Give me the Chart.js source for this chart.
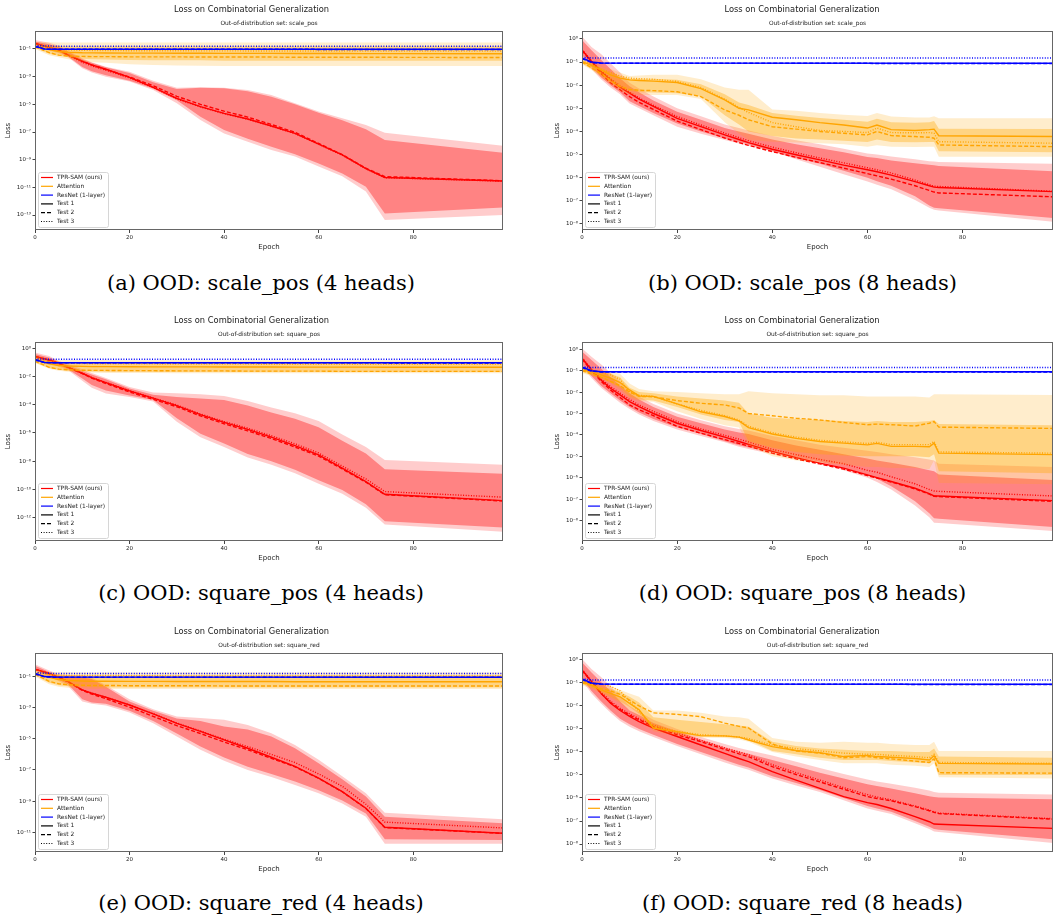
<!DOCTYPE html>
<html>
<head>
<meta charset="utf-8">
<script src="https://cdn.jsdelivr.net/npm/chart.js@4.4.0/dist/chart.umd.min.js"></script>
<style>
  body { margin: 0; background: #fff; width: 1057px; height: 917px; overflow: hidden; position: relative; }
  canvas { position: absolute; }
  .cap { position: absolute; font-family: "DejaVu Serif"; font-size: 21px; line-height: 24px; color: #000; white-space: nowrap; transform: translateX(-50%); }
</style>
</head>
<body>
<script>
// ---- labels ----
const SUPTITLE = 'Loss on Combinatorial Generalization';
const SUBTITLES = ['scale_pos', 'scale_pos', 'square_pos', 'square_pos', 'square_red', 'square_red'].map(s => 'Out-of-distribution set: ' + s);
const CAPTIONS = ['(a) OOD: scale_pos (4 heads)', '(b) OOD: scale_pos (8 heads)', '(c) OOD: square_pos (4 heads)',
                  '(d) OOD: square_pos (8 heads)', '(e) OOD: square_red (4 heads)', '(f) OOD: square_red (8 heads)'];
const MODEL_LABELS = ['TPR-SAM (ours)', 'Attention', 'ResNet (1-layer)'];
const TEST_LABELS = ['Test 1', 'Test 2', 'Test 3'];
const X_TICKS = [0, 20, 40, 60, 80];

// ---- epochs ----
const EPOCHS_4H = [0,3,5,7,10,12,15,20,25,30,35,40,45,50,55,60,65,70,74,99];
const EPOCHS_8H = [0,2,4,6,8,10,12,15,20,25,30,33,35,40,45,50,55,60,62,65,70,73,74,75,99];
const BLUE_EPOCHS = [0, 2, 4, 99];

// ---- (a) scale_pos, 4 heads ----   lines: test1, test2, test3 ; bands: outerLo, outerHi, innerLo, innerHi
const TPR_A = [
  [2.6e-1,1.3e-1,8.5e-2,3.7e-2,1.3e-2,7.1e-3,3.4e-3,8.9e-4,1.7e-4,2.7e-5,6.8e-6,2.2e-6,8.7e-7,2.7e-7,7.9e-8,1.35e-8,2.2e-9,2.3e-10,5.2e-11,2.9e-11],
  [2.4e-1,1.3e-1,8.2e-2,3.6e-2,1.3e-2,7.0e-3,3.3e-3,9.5e-4,2.2e-4,3.8e-5,1.0e-5,3.2e-6,1.2e-6,3.5e-7,9.5e-8,1.5e-8,2.3e-9,2.4e-10,6.0e-11,3.0e-11],
  [2.2e-1,1.2e-1,8.0e-2,3.5e-2,1.1e-2,6.0e-3,2.9e-3,8.0e-4,1.6e-4,2.5e-5,6.5e-6,2.1e-6,8.4e-7,2.6e-7,7.7e-8,1.3e-8,2.1e-9,2.2e-10,5.0e-11,2.8e-11]
];
const TPR_BAND_A = [
  [1.6e-1,7.9e-2,5.0e-2,2.5e-2,4.0e-3,2.0e-3,1.0e-3,4.4e-4,1.1e-4,1.2e-5,7.4e-7,7.9e-8,2.0e-8,5.0e-9,1.7e-9,3.2e-10,6.3e-11,5.0e-12,4.4e-14,1.0e-13],
  [4.5e-1,2.8e-1,1.8e-1,7.9e-2,2.1e-2,1.1e-2,5.2e-3,2.3e-3,5.0e-4,1.6e-4,1.7e-4,1.6e-4,1.1e-4,4.7e-5,1.2e-5,3.0e-6,1.0e-6,3.2e-7,8.9e-8,1.0e-8],
  [2.0e-1,1.0e-1,6.3e-2,2.8e-2,5.0e-3,2.5e-3,1.26e-3,5.0e-4,1.4e-4,2.0e-5,1.26e-6,1.4e-7,3.2e-8,8.7e-9,2.5e-9,5.4e-10,1.0e-10,1.1e-11,1.3e-13,3.5e-13],
  [3.5e-1,2.2e-1,1.4e-1,6.3e-2,1.8e-2,1.0e-2,4.7e-3,1.8e-3,4.0e-4,1.26e-4,1.6e-4,1.45e-4,8.9e-5,3.5e-5,1.0e-5,2.5e-6,7.1e-7,1.6e-7,2.6e-8,3.2e-9]
];
const ATT_A = [
  [1.6e-1,9.0e-2,6.5e-2,5.8e-2,5.3e-2,5.2e-2,5.1e-2,5.0e-2,5.0e-2,4.9e-2,4.9e-2,4.8e-2,4.8e-2,4.8e-2,4.7e-2,4.7e-2,4.7e-2,4.6e-2,4.6e-2,4.5e-2],
  [1.4e-1,5.5e-2,3.6e-2,3.1e-2,2.9e-2,2.8e-2,2.8e-2,2.7e-2,2.7e-2,2.7e-2,2.6e-2,2.6e-2,2.6e-2,2.6e-2,2.5e-2,2.5e-2,2.5e-2,2.5e-2,2.5e-2,2.4e-2],
  [1.7e-1,1.2e-1,9.5e-2,8.5e-2,8.0e-2,7.8e-2,7.6e-2,7.5e-2,7.4e-2,7.4e-2,7.3e-2,7.3e-2,7.2e-2,7.2e-2,7.2e-2,7.1e-2,7.1e-2,7.0e-2,7.0e-2,7.0e-2]
];
const ATT_BAND_A = [
  [1.0e-1,3.5e-2,2.5e-2,1.8e-2,1.3e-2,1.1e-2,1.0e-2,8.0e-3,7.0e-3,6.5e-3,6.2e-3,6.0e-3,6.0e-3,6.0e-3,6.0e-3,6.0e-3,6.0e-3,5.9e-3,5.9e-3,5.9e-3],
  [3.2e-1,3.0e-1,2.9e-1,2.9e-1,2.9e-1,2.9e-1,2.9e-1,2.9e-1,2.9e-1,2.9e-1,2.9e-1,2.9e-1,2.9e-1,2.9e-1,2.9e-1,2.9e-1,2.9e-1,2.9e-1,2.9e-1,2.9e-1],
  [1.2e-1,4.5e-2,3.2e-2,2.5e-2,2.0e-2,1.8e-2,1.7e-2,1.6e-2,1.5e-2,1.5e-2,1.5e-2,1.4e-2,1.4e-2,1.4e-2,1.4e-2,1.4e-2,1.4e-2,1.4e-2,1.4e-2,1.4e-2],
  [2.2e-1,1.8e-1,1.7e-1,1.6e-1,1.6e-1,1.6e-1,1.6e-1,1.6e-1,1.6e-1,1.6e-1,1.6e-1,1.6e-1,1.6e-1,1.6e-1,1.6e-1,1.6e-1,1.6e-1,1.6e-1,1.6e-1,1.6e-1]
];
const RES_A = [[1.6e-1,1.0e-1,9.6e-2,9.5e-2],[1.5e-1,9.8e-2,9.4e-2,9.3e-2],[1.8e-1,1.65e-1,1.6e-1,1.6e-1]];

// ---- (b) scale_pos, 8 heads ----
const TPR_B = [
  [3.3e-1,1.05e-1,3.9e-2,1.7e-2,8.1e-3,4.5e-3,2.5e-3,1.2e-3,3.7e-4,1.6e-4,7.1e-5,4.5e-5,3.3e-5,1.7e-5,9.8e-6,5.9e-6,3.5e-6,2.2e-6,1.8e-6,1.3e-6,6.8e-7,4.5e-7,3.9e-7,3.8e-7,2.5e-7],
  [3.2e-1,1.0e-1,3.2e-2,1.26e-2,6.3e-3,3.2e-3,1.8e-3,8.9e-4,2.8e-4,1.2e-4,5.2e-5,3.3e-5,2.5e-5,1.35e-5,7.6e-6,4.5e-6,2.6e-6,1.5e-6,1.2e-6,8.7e-7,4.5e-7,2.8e-7,2.4e-7,2.2e-7,1.5e-7],
  [3.5e-1,1.1e-1,4.2e-2,1.9e-2,9.5e-3,5.0e-3,2.8e-3,1.35e-3,4.4e-4,1.9e-4,8.5e-5,5.4e-5,4.0e-5,2.1e-5,1.2e-5,7.1e-6,4.4e-6,2.7e-6,2.2e-6,1.6e-6,7.9e-7,5.0e-7,4.3e-7,4.2e-7,2.6e-7]
];
const TPR_BAND_B = [
  [1.6e-1,5.0e-2,1.8e-2,7.9e-3,4.0e-3,1.6e-3,1.0e-3,5.0e-4,1.6e-4,7.9e-5,4.3e-5,3.0e-5,2.4e-5,1.35e-5,6.3e-6,3.0e-6,1.4e-6,6.8e-7,5.0e-7,3.2e-7,1.1e-7,5.0e-8,4.1e-8,3.8e-8,1.26e-8],
  [1.26e0,4.5e-1,2.2e-1,8.9e-2,3.5e-2,1.26e-2,7.1e-3,3.2e-3,1.0e-3,4.5e-4,2.0e-4,1.4e-4,1.1e-4,6.3e-5,4.2e-5,2.8e-5,1.8e-5,1.1e-5,1.0e-5,8.3e-6,6.3e-6,5.2e-6,5.0e-6,4.8e-6,4.0e-6],
  [2.0e-1,6.3e-2,2.2e-2,1.0e-2,5.0e-3,2.0e-3,1.26e-3,6.3e-4,2.2e-4,1.0e-4,5.0e-5,3.5e-5,2.8e-5,1.4e-5,7.1e-6,4.0e-6,2.0e-6,1.0e-6,7.1e-7,4.5e-7,1.6e-7,6.3e-8,5.0e-8,4.8e-8,1.8e-8],
  [8.9e-1,3.2e-1,1.26e-1,5.0e-2,2.0e-2,8.9e-3,5.0e-3,2.2e-3,7.1e-4,3.2e-4,1.4e-4,1.0e-4,7.9e-5,4.5e-5,2.8e-5,1.9e-5,1.26e-5,7.9e-6,7.1e-6,5.6e-6,4.2e-6,3.6e-6,3.5e-6,3.2e-6,1.9e-6]
];
const ATT_B = [
  [1.05e-1,7.1e-2,4.6e-2,2.8e-2,2.0e-2,1.7e-2,1.6e-2,1.5e-2,1.3e-2,7.1e-3,2.3e-3,1.0e-3,8.5e-4,4.1e-4,3.2e-4,2.4e-4,1.9e-4,1.4e-4,1.9e-4,1.2e-4,1.1e-4,1.2e-4,1.26e-4,6.5e-5,6.0e-5],
  [1.0e-1,5.6e-2,3.2e-2,1.6e-2,8.9e-3,6.6e-3,6.0e-3,5.8e-3,5.2e-3,3.2e-3,8.5e-4,5.0e-4,3.2e-4,1.6e-4,1.26e-4,1.0e-4,8.3e-5,7.1e-5,1.0e-4,6.6e-5,6.0e-5,5.6e-5,5.1e-5,2.6e-5,2.2e-5],
  [1.1e-1,7.9e-2,5.0e-2,3.5e-2,2.5e-2,2.0e-2,1.9e-2,1.8e-2,1.45e-2,7.9e-3,2.5e-3,1.1e-3,6.6e-4,2.4e-4,1.6e-4,1.1e-4,1.0e-4,8.9e-5,1.4e-4,8.9e-5,8.7e-5,8.9e-5,8.3e-5,3.6e-5,3.1e-5]
];
const ATT_BAND_B = [
  [7.9e-2,4.5e-2,2.2e-2,1.1e-2,5.6e-3,4.0e-3,3.8e-3,3.8e-3,3.8e-3,2.5e-3,2.5e-4,7.9e-5,4.3e-5,3.6e-5,3.3e-5,3.1e-5,2.8e-5,2.2e-5,2.5e-5,2.2e-5,2.1e-5,2.2e-5,2.2e-5,8.1e-6,8.1e-6],
  [1.6e-1,1.0e-1,7.1e-2,5.0e-2,3.5e-2,2.5e-2,2.6e-2,2.8e-2,2.8e-2,1.8e-2,7.9e-3,6.3e-3,6.3e-3,8.9e-4,7.9e-4,6.2e-4,5.2e-4,4.7e-4,6.3e-4,4.4e-4,4.0e-4,4.0e-4,4.5e-4,3.7e-4,3.7e-4],
  [8.9e-2,5.0e-2,2.6e-2,1.26e-2,7.1e-3,5.6e-3,5.0e-3,4.8e-3,4.5e-3,3.2e-3,5.0e-4,2.0e-4,1.0e-4,6.3e-5,5.0e-5,4.5e-5,4.0e-5,3.5e-5,4.5e-5,3.5e-5,3.4e-5,3.5e-5,3.5e-5,1.4e-5,1.26e-5],
  [1.26e-1,8.3e-2,5.6e-2,3.5e-2,2.5e-2,1.9e-2,1.9e-2,1.9e-2,1.7e-2,1.1e-2,4.0e-3,1.8e-3,1.4e-3,6.3e-4,4.8e-4,3.8e-4,3.2e-4,2.6e-4,3.5e-4,2.5e-4,2.4e-4,2.5e-4,2.8e-4,1.3e-4,1.26e-4]
];
const RES_B = [[1.5e-1,1.0e-1,9.0e-2,8.9e-2],[1.4e-1,9.5e-2,8.8e-2,8.7e-2],[1.6e-1,1.5e-1,1.5e-1,1.5e-1]];

// ---- (c) square_pos, 4 heads ----
const TPR_C = [
  [2.6e-1,1.5e-1,8.7e-2,4.5e-2,1.7e-2,8.3e-3,3.7e-3,9.5e-4,2.9e-4,8.7e-5,2.0e-5,5.6e-6,1.8e-6,5.0e-7,1.26e-7,2.8e-8,3.2e-9,3.5e-10,4.5e-11,1.6e-11],
  [2.5e-1,1.4e-1,8.5e-2,4.4e-2,1.6e-2,7.6e-3,3.2e-3,8.0e-4,2.4e-4,7.2e-5,1.6e-5,4.5e-6,1.4e-6,4.0e-7,1.0e-7,2.3e-8,2.8e-9,3.2e-10,4.2e-11,1.5e-11],
  [2.7e-1,1.5e-1,9.0e-2,4.6e-2,1.7e-2,8.5e-3,3.8e-3,1.0e-3,3.0e-4,9.5e-5,2.2e-5,6.5e-6,2.2e-6,6.3e-7,1.7e-7,3.8e-8,4.5e-9,5.5e-10,7.0e-11,2.8e-11]
];
const TPR_BAND_C = [
  [1.6e-1,8.9e-2,5.0e-2,2.8e-2,5.0e-3,1.6e-3,6.3e-4,3.5e-4,1.7e-4,6.3e-6,5.0e-7,1.0e-7,1.8e-8,5.6e-9,1.4e-9,2.5e-10,5.0e-11,5.0e-12,3.2e-13,1.0e-13],
  [5.0e-1,2.8e-1,1.26e-1,7.9e-2,3.2e-2,1.8e-2,7.9e-3,1.8e-3,7.2e-4,6.5e-4,5.6e-4,4.2e-4,1.8e-4,6.3e-5,2.5e-5,7.1e-6,7.9e-7,1.0e-7,1.2e-8,5.5e-9],
  [2.0e-1,1.0e-1,6.3e-2,3.2e-2,7.1e-3,2.5e-3,1.0e-3,4.5e-4,2.2e-4,1.1e-5,8.9e-7,1.8e-7,3.2e-8,1.0e-8,2.5e-9,4.5e-10,8.9e-11,8.9e-12,5.6e-13,2.0e-13],
  [4.0e-1,2.2e-1,1.1e-1,6.3e-2,2.5e-2,1.4e-2,6.3e-3,1.4e-3,5.0e-4,3.5e-4,2.8e-4,2.2e-4,8.9e-5,2.8e-5,1.0e-5,2.5e-6,2.8e-7,3.5e-8,2.7e-9,1.26e-9]
];
const ATT_C = [
  [1.5e-1,8.0e-2,6.0e-2,5.5e-2,5.2e-2,5.0e-2,5.0e-2,4.9e-2,4.8e-2,4.8e-2,4.8e-2,4.7e-2,4.7e-2,4.7e-2,4.6e-2,4.6e-2,4.6e-2,4.6e-2,4.5e-2,4.5e-2],
  [1.2e-1,4.5e-2,3.3e-2,3.0e-2,2.8e-2,2.7e-2,2.7e-2,2.6e-2,2.6e-2,2.5e-2,2.5e-2,2.5e-2,2.4e-2,2.4e-2,2.4e-2,2.4e-2,2.3e-2,2.3e-2,2.3e-2,2.3e-2],
  [1.6e-1,1.1e-1,9.0e-2,8.5e-2,8.2e-2,8.0e-2,8.0e-2,7.8e-2,7.8e-2,7.6e-2,7.6e-2,7.5e-2,7.5e-2,7.4e-2,7.4e-2,7.3e-2,7.3e-2,7.2e-2,7.2e-2,7.2e-2]
];
const ATT_BAND_C = [
  [9.0e-2,3.5e-2,2.6e-2,2.2e-2,2.0e-2,1.9e-2,1.8e-2,1.8e-2,1.8e-2,1.7e-2,1.7e-2,1.7e-2,1.7e-2,1.7e-2,1.7e-2,1.7e-2,1.7e-2,1.7e-2,1.7e-2,1.7e-2],
  [3.5e-1,1.6e-1,1.5e-1,1.5e-1,1.5e-1,1.5e-1,1.5e-1,1.4e-1,1.4e-1,1.4e-1,1.4e-1,1.4e-1,1.4e-1,1.4e-1,1.4e-1,1.4e-1,1.4e-1,1.4e-1,1.4e-1,1.4e-1],
  [1.0e-1,4.0e-2,3.0e-2,2.6e-2,2.4e-2,2.3e-2,2.2e-2,2.2e-2,2.1e-2,2.1e-2,2.1e-2,2.1e-2,2.1e-2,2.1e-2,2.1e-2,2.1e-2,2.1e-2,2.1e-2,2.1e-2,2.1e-2],
  [2.5e-1,1.2e-1,1.1e-1,1.0e-1,1.0e-1,1.0e-1,1.0e-1,1.0e-1,1.0e-1,1.0e-1,1.0e-1,1.0e-1,1.0e-1,1.0e-1,1.0e-1,1.0e-1,1.0e-1,1.0e-1,1.0e-1,1.0e-1]
];
const RES_C = [[1.6e-1,1.0e-1,9.6e-2,9.5e-2],[1.5e-1,9.8e-2,9.3e-2,9.2e-2],[1.8e-1,1.7e-1,1.65e-1,1.65e-1]];

// ---- (d) square_pos, 8 heads ----
const TPR_D = [
  [3.8e-1,1.1e-1,3.7e-2,1.5e-2,7.4e-3,3.6e-3,2.1e-3,1.0e-3,3.5e-4,1.6e-4,7.8e-5,4.9e-5,3.6e-5,1.7e-5,8.7e-6,4.8e-6,2.8e-6,1.35e-6,1.0e-6,6.6e-7,3.2e-7,1.8e-7,1.4e-7,1.4e-7,8.5e-8],
  [3.5e-1,1.0e-1,3.2e-2,1.26e-2,5.6e-3,2.5e-3,1.5e-3,7.9e-4,2.5e-4,1.2e-4,6.0e-5,4.0e-5,3.0e-5,1.4e-5,7.6e-6,4.4e-6,2.5e-6,1.26e-6,9.5e-7,6.3e-7,3.0e-7,1.7e-7,1.35e-7,1.3e-7,7.9e-8],
  [4.0e-1,1.2e-1,4.2e-2,1.8e-2,8.9e-3,4.5e-3,2.5e-3,1.26e-3,4.2e-4,1.9e-4,9.5e-5,6.3e-5,4.7e-5,2.1e-5,1.2e-5,7.1e-6,4.5e-6,2.2e-6,1.8e-6,1.1e-6,5.2e-7,2.8e-7,2.4e-7,2.3e-7,1.4e-7]
];
const TPR_BAND_D = [
  [1.6e-1,4.5e-2,1.6e-2,7.1e-3,3.2e-3,1.6e-3,8.9e-4,4.5e-4,1.8e-4,8.9e-5,4.5e-5,2.8e-5,2.2e-5,1.26e-5,7.1e-6,4.5e-6,2.2e-6,1.0e-6,6.3e-7,2.8e-7,5.0e-8,1.4e-8,7.9e-9,7.6e-9,3.2e-9],
  [1.1e0,4.5e-1,2.0e-1,7.9e-2,3.2e-2,1.26e-2,6.3e-3,2.8e-3,1.0e-3,4.8e-4,2.5e-4,1.9e-4,1.6e-4,8.9e-5,5.6e-5,3.5e-5,2.5e-5,1.8e-5,1.6e-5,1.26e-5,8.9e-6,7.1e-6,6.3e-6,4.5e-6,3.2e-6],
  [2.0e-1,5.6e-2,2.0e-2,8.9e-3,4.0e-3,2.0e-3,1.1e-3,5.6e-4,2.2e-4,1.1e-4,5.0e-5,3.3e-5,2.6e-5,1.6e-5,8.9e-6,5.6e-6,2.8e-6,1.4e-6,8.9e-7,4.0e-7,7.9e-8,2.2e-8,1.26e-8,1.2e-8,5.0e-9],
  [7.9e-1,3.2e-1,1.26e-1,5.0e-2,2.0e-2,8.9e-3,4.5e-3,2.0e-3,7.1e-4,3.5e-4,1.8e-4,1.3e-4,1.1e-4,5.6e-5,3.2e-5,2.0e-5,1.26e-5,7.9e-6,6.3e-6,5.0e-6,3.2e-6,2.2e-6,2.0e-6,1.4e-6,7.9e-7]
];
const ATT_D = [
  [1.1e-1,8.9e-2,6.3e-2,4.5e-2,2.8e-2,1.26e-2,6.6e-3,6.3e-3,2.8e-3,1.2e-3,7.2e-4,4.5e-4,2.2e-4,1.1e-4,6.9e-5,4.9e-5,4.1e-5,3.4e-5,4.0e-5,2.9e-5,2.9e-5,2.8e-5,4.1e-5,1.4e-5,1.2e-5],
  [1.0e-1,7.1e-2,5.0e-2,3.2e-2,2.0e-2,1.0e-2,6.3e-3,6.0e-3,4.0e-3,3.0e-3,2.5e-3,1.8e-3,1.0e-3,7.8e-4,6.0e-4,5.0e-4,3.8e-4,3.0e-4,3.2e-4,3.0e-4,2.6e-4,3.5e-4,4.2e-4,2.3e-4,2.0e-4],
  [1.26e-1,1.05e-1,8.3e-2,6.3e-2,4.0e-2,1.0e-2,7.1e-3,6.3e-3,2.8e-3,1.4e-3,7.9e-4,5.0e-4,2.5e-4,1.26e-4,7.9e-5,5.6e-5,4.7e-5,4.0e-5,4.5e-5,3.5e-5,3.5e-5,3.5e-5,5.0e-5,1.6e-5,1.4e-5]
];
const ATT_BAND_D = [
  [7.9e-2,5.6e-2,4.0e-2,2.5e-2,1.26e-2,5.0e-3,3.8e-3,3.5e-3,1.26e-3,5.6e-4,2.8e-4,2.2e-4,3.2e-5,1.0e-5,6.3e-6,5.0e-6,4.0e-6,3.2e-6,3.2e-6,2.8e-6,2.8e-6,2.5e-6,6.3e-6,5.6e-7,5.0e-7],
  [1.6e-1,1.26e-1,1.0e-1,8.9e-2,7.1e-2,2.5e-2,1.4e-2,1.1e-2,1.0e-2,8.9e-3,7.9e-3,7.9e-3,1.1e-2,8.9e-3,7.9e-3,7.1e-3,7.1e-3,6.3e-3,6.3e-3,6.3e-3,6.3e-3,5.6e-3,7.9e-3,7.9e-3,7.4e-3],
  [8.9e-2,6.3e-2,4.5e-2,2.8e-2,1.6e-2,6.3e-3,4.5e-3,4.0e-3,2.0e-3,8.9e-4,5.0e-4,4.0e-4,5.0e-5,2.5e-5,1.6e-5,1.26e-5,1.1e-5,1.0e-5,1.0e-5,1.0e-5,1.0e-5,8.9e-6,1.26e-5,2.0e-6,1.6e-6],
  [1.4e-1,1.1e-1,8.9e-2,7.1e-2,5.0e-2,1.6e-2,1.0e-2,8.9e-3,6.3e-3,5.0e-3,4.0e-3,3.2e-3,1.0e-3,6.3e-4,5.6e-4,5.0e-4,4.5e-4,4.0e-4,4.5e-4,4.0e-4,4.0e-4,4.5e-4,5.0e-4,3.2e-4,2.8e-4]
];
const RES_D = [[1.5e-1,1.0e-1,9.0e-2,8.9e-2],[1.4e-1,9.5e-2,8.8e-2,8.7e-2],[1.5e-1,1.4e-1,1.4e-1,1.4e-1]];

// ---- (e) square_red, 4 heads ----
const TPR_E = [
  [3.0e-1,1.6e-1,9.1e-2,4.8e-2,1.4e-2,8.5e-3,4.7e-3,1.5e-3,4.0e-4,1.0e-4,3.0e-5,8.5e-6,2.5e-6,6.6e-7,1.7e-7,3.0e-8,4.1e-9,3.5e-10,2.1e-11,8.7e-12],
  [2.9e-1,1.5e-1,8.9e-2,4.6e-2,1.3e-2,7.5e-3,3.8e-3,1.1e-3,2.8e-4,7.1e-5,2.2e-5,6.3e-6,2.0e-6,5.6e-7,1.6e-7,2.9e-8,4.0e-9,3.4e-10,2.0e-11,8.5e-12],
  [3.0e-1,1.6e-1,9.3e-2,4.9e-2,1.4e-2,8.7e-3,4.8e-3,1.5e-3,4.1e-4,1.05e-4,3.2e-5,9.5e-6,3.2e-6,1.0e-6,3.0e-7,5.6e-8,9.0e-9,6.3e-10,4.5e-11,1.9e-11]
];
const TPR_BAND_E = [
  [2.0e-1,1.0e-1,5.0e-2,2.5e-2,2.5e-3,1.8e-3,1.4e-3,5.0e-4,1.0e-4,1.4e-5,2.0e-6,4.0e-7,1.0e-7,3.5e-8,1.1e-8,3.2e-9,7.1e-10,1.0e-10,1.8e-12,1.8e-12],
  [6.3e-1,2.5e-1,1.4e-1,1.26e-1,1.2e-1,8.9e-2,2.8e-2,3.5e-3,7.9e-4,2.7e-4,2.2e-4,1.7e-4,7.9e-5,2.3e-5,4.0e-6,4.5e-7,4.0e-8,3.2e-9,1.8e-10,6.8e-11],
  [2.5e-1,1.1e-1,6.3e-2,3.2e-2,3.5e-3,2.2e-3,1.8e-3,6.3e-4,1.4e-4,2.2e-5,3.2e-6,6.3e-7,1.6e-7,5.6e-8,1.8e-8,5.0e-9,1.1e-9,1.6e-10,3.5e-12,3.2e-12],
  [5.0e-1,2.0e-1,1.1e-1,1.0e-1,8.9e-2,7.1e-2,2.2e-2,2.5e-3,6.3e-4,2.0e-4,1.4e-4,6.3e-5,4.0e-5,1.4e-5,2.5e-6,2.7e-7,2.5e-8,2.0e-9,1.0e-10,3.8e-11]
];
const ATT_E = [
  [1.6e-1,9.0e-2,6.5e-2,5.6e-2,5.2e-2,5.0e-2,5.0e-2,4.9e-2,4.9e-2,4.8e-2,4.8e-2,4.8e-2,4.8e-2,4.8e-2,4.7e-2,4.7e-2,4.7e-2,4.7e-2,4.7e-2,4.7e-2],
  [1.4e-1,5.0e-2,3.5e-2,3.0e-2,2.8e-2,2.7e-2,2.7e-2,2.6e-2,2.6e-2,2.6e-2,2.6e-2,2.5e-2,2.5e-2,2.5e-2,2.5e-2,2.5e-2,2.5e-2,2.5e-2,2.5e-2,2.5e-2],
  [1.8e-1,1.4e-1,1.25e-1,1.2e-1,1.2e-1,1.2e-1,1.2e-1,1.15e-1,1.15e-1,1.1e-1,1.1e-1,1.1e-1,1.1e-1,1.1e-1,1.1e-1,1.1e-1,1.1e-1,1.1e-1,1.1e-1,1.1e-1]
];
const ATT_BAND_E = [
  [1.0e-1,3.2e-2,2.2e-2,1.9e-2,1.7e-2,1.6e-2,1.6e-2,1.6e-2,1.6e-2,1.6e-2,1.6e-2,1.6e-2,1.6e-2,1.6e-2,1.6e-2,1.6e-2,1.6e-2,1.6e-2,1.6e-2,1.6e-2],
  [3.0e-1,2.0e-1,1.9e-1,1.9e-1,1.8e-1,1.8e-1,1.8e-1,1.8e-1,1.8e-1,1.8e-1,1.8e-1,1.8e-1,1.8e-1,1.8e-1,1.8e-1,1.8e-1,1.8e-1,1.8e-1,1.8e-1,1.8e-1],
  [1.2e-1,4.0e-2,2.8e-2,2.4e-2,2.2e-2,2.1e-2,2.0e-2,2.0e-2,2.0e-2,2.0e-2,2.0e-2,2.0e-2,2.0e-2,2.0e-2,2.0e-2,2.0e-2,2.0e-2,2.0e-2,2.0e-2,2.0e-2],
  [2.2e-1,1.5e-1,1.3e-1,1.2e-1,1.2e-1,1.2e-1,1.2e-1,1.2e-1,1.2e-1,1.2e-1,1.2e-1,1.2e-1,1.2e-1,1.2e-1,1.2e-1,1.2e-1,1.2e-1,1.2e-1,1.2e-1,1.2e-1]
];
const RES_E = [[1.6e-1,1.0e-1,9.3e-2,9.1e-2],[1.5e-1,9.7e-2,9.1e-2,9.0e-2],[1.8e-1,1.65e-1,1.6e-1,1.6e-1]];

// ---- (f) square_red, 8 heads ----
const TPR_F = [
  [3.7e-1,1.15e-1,3.5e-2,1.3e-2,6.3e-3,3.5e-3,2.1e-3,1.1e-3,4.7e-4,2.0e-4,8.7e-5,5.2e-5,3.8e-5,1.4e-5,6.0e-6,2.6e-6,1.15e-6,6.3e-7,5.2e-7,3.5e-7,1.55e-7,9.3e-8,7.4e-8,7.2e-8,4.8e-8],
  [3.5e-1,1.1e-1,3.5e-2,1.4e-2,7.1e-3,4.0e-3,2.5e-3,1.3e-3,5.6e-4,2.8e-4,1.3e-4,8.3e-5,6.3e-5,2.3e-5,1.05e-5,5.0e-6,2.4e-6,1.15e-6,9.5e-7,7.6e-7,4.2e-7,2.8e-7,2.4e-7,2.1e-7,1.2e-7],
  [4.0e-1,1.2e-1,4.0e-2,1.6e-2,7.9e-3,4.5e-3,2.8e-3,1.5e-3,6.6e-4,3.2e-4,1.5e-4,1.0e-4,7.6e-5,2.8e-5,1.26e-5,6.0e-6,2.8e-6,1.4e-6,1.1e-6,8.3e-7,4.5e-7,3.0e-7,2.5e-7,2.2e-7,1.26e-7]
];
const TPR_BAND_F = [
  [1.26e-1,3.5e-2,1.26e-2,5.0e-3,2.2e-3,1.26e-3,7.9e-4,4.5e-4,1.8e-4,7.9e-5,3.5e-5,2.2e-5,1.7e-5,7.1e-6,3.5e-6,1.8e-6,7.9e-7,3.5e-7,2.8e-7,2.0e-7,7.9e-8,4.5e-8,3.5e-8,3.3e-8,1.1e-8],
  [1.1e0,4.0e-1,1.8e-1,7.1e-2,2.5e-2,1.0e-2,5.6e-3,2.5e-3,1.0e-3,4.5e-4,2.2e-4,1.5e-4,1.2e-4,7.1e-5,3.8e-5,2.0e-5,1.1e-5,6.3e-6,5.2e-6,4.2e-6,2.8e-6,2.1e-6,1.8e-6,1.7e-6,1.4e-6],
  [1.6e-1,4.5e-2,1.6e-2,6.3e-3,2.8e-3,1.6e-3,1.0e-3,5.6e-4,2.2e-4,1.0e-4,4.5e-5,2.8e-5,2.1e-5,8.9e-6,4.5e-6,2.2e-6,1.0e-6,4.5e-7,3.5e-7,2.5e-7,1.0e-7,5.6e-8,4.5e-8,4.2e-8,1.6e-8],
  [7.9e-1,2.8e-1,1.1e-1,4.5e-2,1.6e-2,6.3e-3,4.0e-3,1.8e-3,7.9e-4,3.5e-4,1.6e-4,1.05e-4,8.3e-5,4.5e-5,2.4e-5,1.26e-5,7.1e-6,4.0e-6,3.3e-6,2.6e-6,1.6e-6,1.2e-6,1.1e-6,1.05e-6,8.9e-7]
];
const ATT_F = [
  [1.15e-1,7.9e-2,5.0e-2,3.5e-2,2.5e-2,1.3e-2,6.8e-3,1.1e-3,7.6e-4,5.0e-4,5.0e-4,4.4e-4,3.3e-4,1.7e-4,1.15e-4,9.3e-5,6.3e-5,7.1e-5,6.3e-5,5.9e-5,5.2e-5,4.5e-5,6.8e-5,3.2e-5,3.0e-5],
  [1.0e-1,7.9e-2,5.6e-2,4.5e-2,3.2e-2,1.8e-2,1.0e-2,5.0e-3,4.3e-3,3.4e-3,1.8e-3,1.3e-3,1.1e-3,2.2e-4,1.1e-4,8.9e-5,5.6e-5,6.3e-5,5.6e-5,5.0e-5,4.0e-5,3.5e-5,5.0e-5,1.26e-5,1.2e-5],
  [1.26e-1,1.1e-1,8.9e-2,7.1e-2,4.5e-2,1.6e-2,5.6e-3,1.4e-3,7.9e-4,5.6e-4,5.0e-4,4.5e-4,3.8e-4,2.0e-4,1.4e-4,1.1e-4,8.9e-5,7.9e-5,7.9e-5,7.1e-5,6.3e-5,5.6e-5,7.9e-5,3.5e-5,3.2e-5]
];
const ATT_BAND_F = [
  [7.9e-2,5.6e-2,3.5e-2,2.2e-2,1.26e-2,6.3e-3,3.2e-3,7.9e-4,5.0e-4,4.2e-4,4.0e-4,3.5e-4,2.8e-4,1.0e-4,6.3e-5,4.5e-5,3.2e-5,3.2e-5,3.2e-5,2.8e-5,2.5e-5,2.2e-5,3.2e-5,7.9e-6,7.1e-6],
  [1.6e-1,1.1e-1,8.9e-2,7.1e-2,5.0e-2,3.5e-2,2.5e-2,6.3e-3,6.3e-3,5.0e-3,3.5e-3,3.2e-3,2.8e-3,4.0e-4,2.8e-4,2.5e-4,2.8e-4,2.5e-4,2.5e-4,2.2e-4,2.0e-4,2.0e-4,2.8e-4,1.1e-4,1.1e-4],
  [8.9e-2,6.3e-2,4.0e-2,2.5e-2,1.6e-2,8.9e-3,4.5e-3,1.0e-3,6.3e-4,5.0e-4,4.5e-4,4.0e-4,3.3e-4,1.1e-4,7.9e-5,5.6e-5,4.5e-5,4.5e-5,4.5e-5,4.0e-5,3.5e-5,3.2e-5,4.5e-5,1.0e-5,1.0e-5],
  [1.4e-1,1.0e-1,7.1e-2,5.6e-2,4.0e-2,2.5e-2,1.4e-2,3.2e-3,2.5e-3,2.0e-3,1.6e-3,1.4e-3,1.26e-3,2.8e-4,1.8e-4,1.4e-4,1.26e-4,1.1e-4,1.1e-4,1.1e-4,1.0e-4,1.0e-4,1.4e-4,6.3e-5,5.6e-5]
];
const RES_F = [[1.5e-1,1.0e-1,8.9e-2,8.7e-2],[1.4e-1,9.5e-2,8.7e-2,8.6e-2],[1.5e-1,1.35e-1,1.35e-1,1.35e-1]];

// ---- styling ----
const MODEL_COLORS = ['#ff0000', '#ffa500', '#0000ff'];
const MODEL_RGB = ['255,0,0', '255,165,0', '0,0,255'];
const TEST_DASHES = [[], [4, 2], [1, 1.6]];
const FONT = '"DejaVu Sans"';
Chart.defaults.font.family = FONT;
Chart.defaults.color = '#222';

// left, top, canvas width, y-axis width, y title padding, y range, y ticks, caption anchor
const PANELS = [
  {left: 0,   top: 0,   w: 507, yw: 35, ytp: 4.1, min: 8.3e-15, max: 2.0, ticks: [1e-1,1e-3,1e-5,1e-7,1e-9,1e-11,1e-13], ep: EPOCHS_4H, tpr: TPR_A, tprBand: TPR_BAND_A, att: ATT_A, attBand: ATT_BAND_A, res: RES_A, capX: 261, capY: 271},
  {left: 551, top: 0,   w: 506, yw: 31, ytp: 1.5, min: 5.5e-9, max: 2.2, ticks: [1e0,1e-1,1e-2,1e-3,1e-4,1e-5,1e-6,1e-7,1e-8], ep: EPOCHS_8H, tpr: TPR_B, tprBand: TPR_BAND_B, att: ATT_B, attBand: ATT_BAND_B, res: RES_B, capX: 802.5, capY: 271},
  {left: 0,   top: 311, w: 507, yw: 35, ytp: 4.1, min: 2.2e-14, max: 2.8, ticks: [1e0,1e-2,1e-4,1e-6,1e-8,1e-10,1e-12], ep: EPOCHS_4H, tpr: TPR_C, tprBand: TPR_BAND_C, att: ATT_C, attBand: ATT_BAND_C, res: RES_C, capX: 261, capY: 581},
  {left: 551, top: 311, w: 506, yw: 31, ytp: 1.5, min: 1.1e-9, max: 2.2, ticks: [1e0,1e-1,1e-2,1e-3,1e-4,1e-5,1e-6,1e-7,1e-8], ep: EPOCHS_8H, tpr: TPR_D, tprBand: TPR_BAND_D, att: ATT_D, attBand: ATT_BAND_D, res: RES_D, capX: 802.5, capY: 581},
  {left: 0,   top: 622, w: 507, yw: 35, ytp: 4.1, min: 5.4e-13, max: 3.3, ticks: [1e-1,1e-3,1e-5,1e-7,1e-9,1e-11], ep: EPOCHS_4H, tpr: TPR_E, tprBand: TPR_BAND_E, att: ATT_E, attBand: ATT_BAND_E, res: RES_E, capX: 261, capY: 891},
  {left: 551, top: 622, w: 506, yw: 31, ytp: 1.5, min: 4.5e-9, max: 2.0, ticks: [1e0,1e-1,1e-2,1e-3,1e-4,1e-5,1e-6,1e-7,1e-8], ep: EPOCHS_8H, tpr: TPR_F, tprBand: TPR_BAND_F, att: ATT_F, attBand: ATT_BAND_F, res: RES_F, capX: 802.5, capY: 891}
];

const SUP = {'-': '\u207B', '0': '\u2070', '1': '\u00B9', '2': '\u00B2', '3': '\u00B3', '4': '\u2074', '5': '\u2075', '6': '\u2076', '7': '\u2077', '8': '\u2078', '9': '\u2079'};
function powLabel(v) {
  return '10' + String(Math.round(Math.log10(v))).split('').map(c => SUP[c]).join('');
}

function pts(xs, ys) { return ys.map((y, i) => ({x: xs[i], y: y})); }

function buildDatasets(p) {
  const ds = [];
  const addBand = (xs, band, rgb, order) => {
    [[0, 1, 0.2], [2, 3, 0.36]].forEach(([lo, hi, a]) => {
      ds.push({data: pts(xs, band[lo]), borderColor: 'rgba(0,0,0,0)', borderWidth: 0, pointRadius: 0, fill: false, order: order});
      ds.push({data: pts(xs, band[hi]), borderColor: 'rgba(0,0,0,0)', borderWidth: 0, pointRadius: 0, fill: '-1',
               backgroundColor: 'rgba(' + rgb + ',' + a + ')', order: order});
    });
  };
  const addLines = (xs, lines, color, width, order) => {
    lines.forEach((ys, i) => ds.push({data: pts(xs, ys), borderColor: color, borderWidth: width, borderDash: TEST_DASHES[i],
                                      pointRadius: 0, fill: false, tension: 0, order: order}));
  };
  addBand(p.ep, p.tprBand, MODEL_RGB[0], 5);
  addLines(p.ep, p.tpr, MODEL_COLORS[0], 1.4, 4);
  addBand(p.ep, p.attBand, MODEL_RGB[1], 3);
  addLines(p.ep, p.att, MODEL_COLORS[1], 1.4, 2);
  addLines(BLUE_EPOCHS, p.res, MODEL_COLORS[2], 1.5, 1);
  return ds;
}

// frame, subtitle and the in-axes legend
const overlay = {
  id: 'overlay',
  afterDatasetsDraw(chart, args, opts) {
    const ctx = chart.ctx, a = chart.chartArea;
    ctx.save();
    ctx.strokeStyle = '#666';
    ctx.lineWidth = 1;
    ctx.strokeRect(Math.round(a.left) + 0.5, Math.round(a.top) + 0.5, Math.round(a.right - a.left) - 1, Math.round(a.bottom - a.top) - 1);

    const x0 = a.left + 3, h = 55, w = 70, y0 = a.bottom - 3 - h;
    ctx.beginPath();
    ctx.roundRect(x0 + 0.5, y0 + 0.5, w, h, 2);
    ctx.fillStyle = 'rgba(255,255,255,0.8)';
    ctx.fill();
    ctx.strokeStyle = '#d6d6d6';
    ctx.stroke();
    const items = MODEL_LABELS.map((l, i) => ({l: l, c: MODEL_COLORS[i], d: []}))
      .concat(TEST_LABELS.map((l, i) => ({l: l, c: '#000', d: TEST_DASHES[i]})));
    ctx.font = '5.9px ' + FONT;
    ctx.textBaseline = 'middle';
    ctx.textAlign = 'left';
    items.forEach((it, i) => {
      const y = y0 + 5.5 + i * 8.8;
      ctx.beginPath();
      ctx.setLineDash(it.d);
      ctx.strokeStyle = it.c;
      ctx.lineWidth = 1.2;
      ctx.moveTo(x0 + 3, y);
      ctx.lineTo(x0 + 15, y);
      ctx.stroke();
      ctx.setLineDash([]);
      ctx.fillStyle = '#222';
      ctx.fillText(it.l, x0 + 19, y);
    });

    ctx.font = '5.9px ' + FONT;
    ctx.textAlign = 'center';
    ctx.fillStyle = '#222';
    ctx.fillText(opts.subtitle, (a.left + a.right) / 2, a.top - 7);
    ctx.restore();
  }
};

PANELS.forEach((p, k) => {
  const cv = document.createElement('canvas');
  cv.width = p.w; cv.height = 252;
  cv.style.left = p.left + 'px'; cv.style.top = p.top + 'px';
  cv.style.width = p.w + 'px'; cv.style.height = '252px';
  document.body.appendChild(cv);

  const cap = document.createElement('div');
  cap.className = 'cap';
  cap.textContent = CAPTIONS[k];
  cap.style.left = p.capX + 'px';
  cap.style.top = p.capY + 'px';
  document.body.appendChild(cap);

  new Chart(cv.getContext('2d'), {
    type: 'line',
    data: {datasets: buildDatasets(p)},
    plugins: [overlay],
    options: {
      responsive: false,
      animation: false,
      events: [],
      layout: {padding: {left: 0, right: 4, top: 0, bottom: 0}},
      plugins: {
        legend: {display: false},
        tooltip: {enabled: false},
        title: {display: true, text: SUPTITLE, color: '#1a1a1a',
                font: {family: FONT, size: 8.3, weight: 'normal', lineHeight: 1.2}, padding: {top: 5, bottom: 16}},
        overlay: {subtitle: SUBTITLES[k]}
      },
      scales: {
        x: {
          type: 'linear', min: 0, max: 99,
          afterBuildTicks: s => { s.ticks = X_TICKS.map(v => ({value: v})); },
          afterFit: s => { s.height = 22; },
          ticks: {font: {size: 5.5}, color: '#222', padding: 1, maxRotation: 0, autoSkip: false},
          grid: {display: true, drawOnChartArea: false, drawTicks: true, tickLength: 3, color: '#444'},
          border: {display: false},
          title: {display: true, text: 'Epoch', color: '#222', font: {size: 7, lineHeight: 1.2}, padding: {top: 0, bottom: 0.8}}
        },
        y: {
          type: 'logarithmic', min: p.min, max: p.max,
          afterBuildTicks: s => { s.ticks = p.ticks.map(v => ({value: v})); },
          afterFit: s => { s.width = p.yw; },
          ticks: {font: {size: 5.5}, color: '#222', padding: 1.5, autoSkip: false, callback: v => powLabel(v)},
          grid: {display: true, drawOnChartArea: false, drawTicks: true, tickLength: 2.5, color: '#444'},
          border: {display: false},
          title: {display: true, text: 'Loss', color: '#222', font: {size: 7, lineHeight: 1.2}, padding: {top: p.ytp, bottom: 0}}
        }
      }
    }
  });
});
</script>
</body>
</html>
